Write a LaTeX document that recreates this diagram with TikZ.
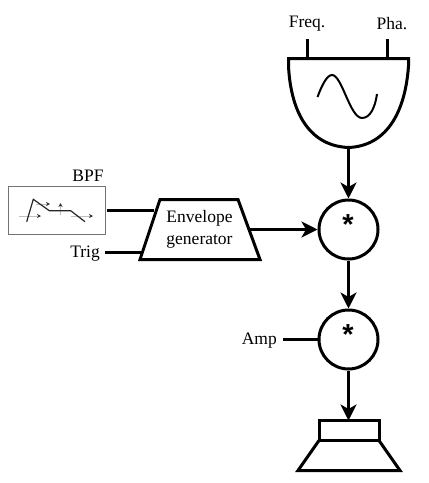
\documentclass[tikz,border=0pt]{standalone}
\usepackage{fontspec}
\setmainfont{Liberation Serif}
\newfontfamily\starfont{Liberation Sans}
\usetikzlibrary{arrows.meta,calc}
\tikzset{
  wire/.style={line width=3pt,black},
  arrowwire/.style={wire,-{Stealth[length=16pt,width=16pt,inset=4.5pt]}},
  block/.style={line width=3pt,black,line join=miter},
  mult/.style={circle,draw=black,line width=3pt,minimum size=59pt,inner sep=0pt},
  lbl/.style={inner sep=0pt,font=\fontsize{17.5}{22}\selectfont},
  star/.style={inner sep=0pt,font=\starfont\bfseries\fontsize{29}{29}\selectfont},
  tiny/.style={-{Stealth[length=4pt,width=4pt,black!80]},line width=.8pt,gray!50}
}
\begin{document}
\begin{tikzpicture}[x=1pt,y=-1pt]
\useasboundingbox (0,0) rectangle (429,483);
% oscillator
\draw[block] (288.5,58.5) -- (408.5,58.5) -- (408.5,66)
  .. controls (405,115) and (385,146) .. (348.5,147.5)
  .. controls (311,146) and (291,115) .. (288.5,66) -- cycle;
\coordinate (oscbottom) at (348.5,147.5);
\coordinate (freqin) at (307.5,58.5);
\coordinate (phain) at (387.5,58.5);
\coordinate (freqtop) at (307.5,39);
\coordinate (phatop) at (387.5,39);
\draw[line width=2pt] (317.5,97) .. controls (322,85) and (327,75) .. (332,75)
  .. controls (342,75) and (350,118) .. (362,118)
  .. controls (370,118) and (375,108) .. (377,94);
\node[lbl] (freq) at (307,24) {Freq.};
\node[lbl] (pha) at (392,24) {Pha.};
\draw[wire] (freqtop) -- (freqin);
\draw[wire] (phatop) -- (phain);
% multipliers
\node[mult] (m1) at (348.5,229.5) {};
\node[mult] (m2) at (348.5,339.5) {};
\node[star] (s1) at (348,224.5) {*};
\node[star] (s2) at (348,334.5) {*};
\draw[arrowwire] (oscbottom) -- (m1.north);
\draw[arrowwire] (m1.south) -- (m2.north);
% speaker
\coordinate (spktop) at (348.5,420.5);
\draw[block] (319,420.5) rectangle (379,440.5);
\draw[block] (319,440.5) -- (298,470.5) -- (400,470.5) -- (379,440.5);
\draw[arrowwire] (m2.south) -- (spktop);
% envelope
\draw[block] (160,199.5) -- (238,199.5) -- (260,259.5) -- (140,259.5) -- cycle;
\node[lbl,align=center] (env) at (199.5,229) {Envelope\\generator};
\coordinate (envout) at (250,229.5);
\coordinate (envbpf) at (154,210.5);
\coordinate (envtrig) at (143,252.5);
\draw[arrowwire] (envout) -- (m1.west);
% BPF
\node[draw=black!55,line width=1pt,minimum width=97pt,minimum height=48pt,inner sep=0pt] (bpf) at (56.5,210) {};
\node[lbl,anchor=base] (bpflabel) at (88,181) {BPF};
\coordinate (bpfout) at (107,210.5);
\draw[wire] (bpfout) -- (envbpf);
\node[lbl,anchor=base east] (trig) at (100,257) {Trig};
\coordinate (trigout) at (105,252.5);
\draw[wire] (trigout) -- (envtrig);
\node[lbl,anchor=base east] (amp) at (277,344) {Amp};
\coordinate (ampout) at (283,339.5);
\draw[wire] (ampout) -- (m2.west);
% inset
\draw[tiny] (19,216) -- (41,216);
\draw[tiny] (36,204) -- (50,204);
\draw[tiny] (60.5,215) -- (60.5,203);
\draw[tiny] (71,216) -- (93,216);
\draw[line width=1.2pt,black!85] (26.7,221.7) -- (33.3,199.3) -- (49.3,210.7) -- (70.7,210.7) -- (85,221.7);
\end{tikzpicture}
\end{document}
